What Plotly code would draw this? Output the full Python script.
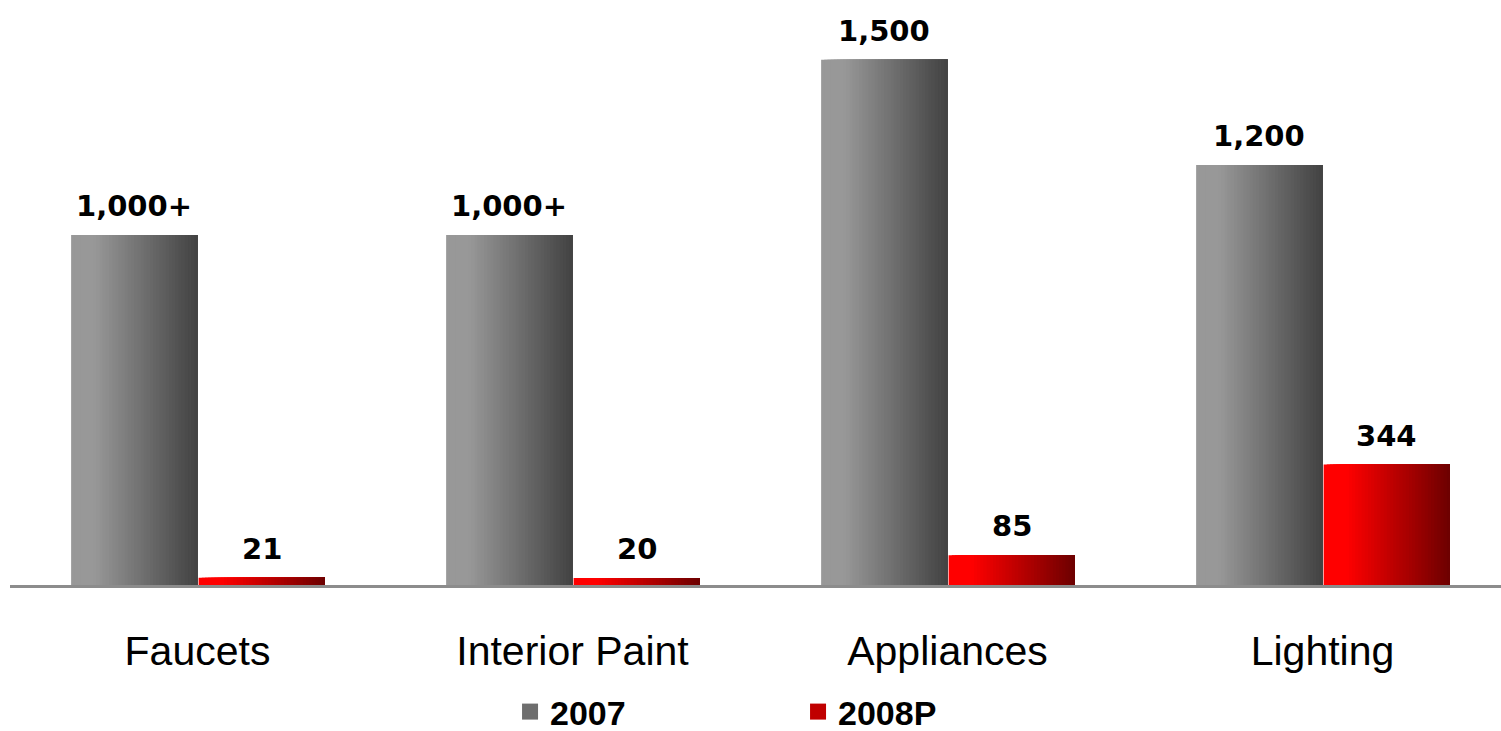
import plotly.graph_objects as go

categories = ["Faucets", "Interior Paint", "Appliances", "Lighting"]
values_2007 = [1000, 1000, 1500, 1200]
labels_2007 = ["1,000+", "1,000+", "1,500", "1,200"]
values_2008 = [21, 20, 85, 344]
labels_2008 = ["21", "20", "85", "344"]
series_names = ["2007", "2008P"]


def lerp(c1, c2, t):
    return "rgb(%d,%d,%d)" % tuple(round(a + (b - a) * t) for a, b in zip(c1, c2))


def grad_color(c_left, c_right, t, flat=0.18):
    if t <= flat:
        return lerp(c_left, c_left, 0)
    return lerp(c_left, c_right, (t - flat) / (1 - flat))


fig = go.Figure()

N = 40
BW = 0.337
specs = [
    (values_2007, labels_2007, -BW, (152, 152, 152), (66, 66, 66)),
    (values_2008, labels_2008, 0.003, (255, 0, 0), (108, 0, 0)),
]
for vals, labs, start, cl, cr in specs:
    s = BW / N
    for i in range(N):
        t = (i + 0.5) / N
        fig.add_trace(go.Bar(
            x=categories, y=vals,
            offset=start + i * s, width=BW - i * s,
            marker=dict(color=grad_color(cl, cr, t), line=dict(width=0)),
            showlegend=False, hoverinfo="skip",
        ))
    # value labels centred above each bar
    for idx, (v, lab) in enumerate(zip(vals, labs)):
        fig.add_annotation(
            x=idx + start + BW / 2, y=v, xref="x", yref="y",
            text=lab, showarrow=False, xanchor="center", yanchor="bottom",
            yshift=10,
            font=dict(family="DejaVu Sans", size=29, color="black", weight="bold"),
        )

legend_colors = ["#6e6e6e", "#c00000"]
for name, col in zip(series_names, legend_colors):
    fig.add_trace(go.Scatter(
        x=[None], y=[None], mode="markers", name=name,
        marker=dict(symbol="square", size=18, color=col),
    ))

fig.update_layout(
    width=1501, height=731,
    margin=dict(l=10, r=0, t=0, b=146),
    barmode="overlay",
    plot_bgcolor="white", paper_bgcolor="white",
    xaxis=dict(
        type="category", range=[-0.5, 3.476],
        showline=True, linecolor="#8c8c8c", linewidth=2.5,
        ticks="outside", ticklen=28, tickcolor="rgba(0,0,0,0)",
        tickfont=dict(family="Liberation Sans", size=41, color="black"),
        showgrid=False, zeroline=False,
    ),
    yaxis=dict(range=[0, 1671], visible=False, showgrid=False, zeroline=False),
    legend=dict(
        orientation="h", xref="container", yref="container",
        x=0.3398, xanchor="left", y=0.026, yanchor="middle",
        font=dict(family="Liberation Sans", size=34, color="black", weight="bold"),
        entrywidth=243, itemsizing="trace",
    ),
)

fig.write_html("out.html")
